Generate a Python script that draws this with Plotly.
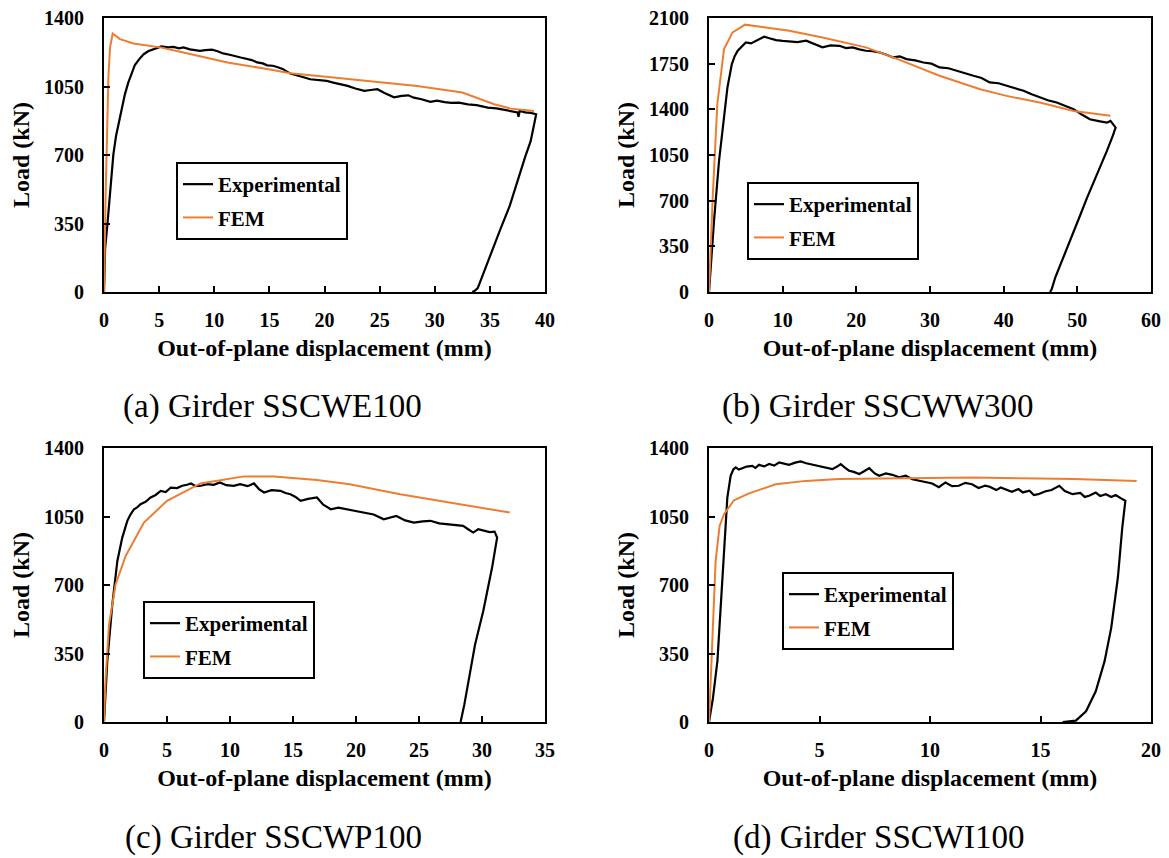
import plotly.graph_objects as go

# ---------------- data ----------------
# (a) Girder SSCWE100
a_exp_x = [0, 0.1, 0.3, 0.55, 0.85, 1.1, 1.3, 1.6, 1.9, 2.2, 2.4, 2.8, 3.2, 3.6, 4.0, 4.5, 5.2, 5.8, 6.3, 6.8,
           7.2, 7.8, 8.3, 8.7, 9.2, 9.8, 10.3, 10.8, 11.4, 11.9, 12.4, 12.9, 13.4, 13.9, 14.4, 14.8, 15.3, 15.7,
           16.2, 16.9, 17.5, 18.1, 18.7, 19.3, 20.2, 20.8, 21.5, 22.1, 22.8, 23.6, 24.2, 24.8, 25.4, 26.3, 27.0,
           27.6, 28.1, 28.8, 29.6, 30.2, 30.9, 31.5, 32.2, 33.0, 33.8, 34.8, 35.6, 36.3, 37.0, 37.5, 37.6, 37.7,
           38.2, 38.7, 39.2, 39.0, 38.7, 38.2, 37.5, 36.8, 36.0, 35.4, 34.8, 34.3, 33.9, 33.6, 33.4]
a_exp_y = [0, 220, 340, 520, 703, 800, 857, 940, 1011, 1070, 1104, 1160, 1190, 1215, 1230, 1241, 1255, 1250, 1252, 1245,
           1250, 1240, 1235, 1232, 1236, 1238, 1230, 1219, 1212, 1204, 1198, 1192, 1185, 1173, 1168, 1158, 1156, 1150,
           1140, 1116, 1108, 1097, 1087, 1085, 1079, 1070, 1062, 1053, 1040, 1028, 1032, 1036, 1018, 995, 1002,
           1005, 993, 985, 972, 978, 970, 966, 968, 959, 955, 942, 938, 932, 925, 918, 895, 925,
           918, 915, 908, 860, 771, 690, 567, 440, 328, 240, 157, 85, 20, 5, 0]
a_fem_x = [0, 0.15, 0.4, 0.55, 0.79, 1.45, 2.67, 5.1, 7.2, 11.2, 14.8, 16.9, 20.8, 23.9, 28.4, 32.5, 35.4, 36.9, 39.0]
a_fem_y = [0, 500, 1100, 1250, 1321, 1292, 1270, 1250, 1224, 1173, 1139, 1118, 1096, 1079, 1053, 1019, 959, 937, 925]

# (b) Girder SSCWW300
b_exp_x = [0, 0.68, 1.36, 2.04, 2.5, 3.1, 3.5, 3.9, 4.4, 5.0, 5.7, 6.4, 7.0, 7.5, 8.2, 9.1, 10.0, 10.9, 12.0, 13.2,
           14.3, 15.4, 16.5, 17.7, 18.6, 19.5, 20.4, 21.3, 22.2, 23.2, 24.1, 25.0, 25.9, 26.8, 28.0, 29.1, 30.2,
           31.3, 32.5, 33.6, 34.7, 35.9, 37.0, 38.1, 39.3, 40.4, 41.5, 42.7, 43.8, 44.9, 46.0, 47.2, 48.3, 49.5,
           50.6, 51.7, 52.9, 54.0, 54.5, 55.2, 55.0, 54.9, 54.0, 53.1, 52.2, 51.3, 50.4, 49.5, 48.6, 47.7, 47.0,
           46.5, 46.3]
b_exp_y = [0, 543, 1004, 1362, 1567, 1747, 1810, 1849, 1880, 1913, 1905, 1926, 1940, 1957, 1945, 1931, 1925, 1921, 1915, 1926,
           1900, 1875, 1890, 1887, 1870, 1875, 1860, 1849, 1845, 1836, 1818, 1798, 1805, 1785, 1775, 1759, 1750,
           1721, 1715, 1695, 1680, 1657, 1640, 1606, 1600, 1580, 1565, 1542, 1515, 1490, 1470, 1452, 1430, 1401,
           1360, 1324, 1310, 1298, 1311, 1260, 1230, 1209, 1080, 960, 850, 720, 590, 466, 340, 210, 110,
           18, 0]
b_fem_x = [0, 0.5, 1.13, 2.04, 3.2, 4.9, 10.9, 15.4, 21.3, 25.0, 31.3, 36.8, 40.4, 44.9, 49.5, 54.5]
b_fem_y = [0, 722, 1439, 1862, 1990, 2049, 2003, 1951, 1875, 1798, 1657, 1554, 1503, 1452, 1388, 1350]

# (c) Girder SSCWP100
c_exp_x = [0, 0.26, 0.66, 1.06, 1.45, 1.85, 2.1, 2.38, 2.6, 2.9, 3.3, 3.7, 4.1, 4.5, 4.9, 5.3, 5.8, 6.2, 6.6, 6.9,
           7.3, 7.7, 8.2, 8.7, 9.2, 9.7, 10.3, 10.8, 11.4, 11.9, 12.3, 12.7, 13.3, 14.0, 14.4, 14.8, 15.2, 15.6,
           16.2, 16.9, 17.4, 18.0, 18.6, 19.3, 19.9, 20.6, 21.4, 22.2, 22.7, 23.2, 23.9, 24.6, 25.3, 25.9, 26.6,
           27.2, 27.9, 28.5, 28.9, 29.3, 29.7, 30.1, 30.6, 31.0, 31.2, 30.8, 30.1, 29.45, 29.2, 29.05, 28.8, 28.6,
           28.4, 28.3]
c_exp_y = [0, 311, 601, 823, 942, 1028, 1060, 1087, 1095, 1113, 1125, 1147, 1160, 1181, 1175, 1198, 1195, 1207, 1212, 1219,
           1205, 1207, 1215, 1212, 1224, 1210, 1207, 1215, 1205, 1219, 1190, 1173, 1185, 1181, 1170, 1164, 1150, 1130,
           1140, 1147, 1110, 1087, 1095, 1087, 1080, 1070, 1060, 1036, 1045, 1053, 1030, 1019, 1025, 1028, 1015,
           1011, 1005, 1002, 985, 968, 985, 980, 970, 973, 942, 789, 567, 396, 300, 242, 157, 90,
           29, 0]
c_fem_x = [0, 0.13, 0.4, 0.92, 1.72, 3.17, 5.0, 7.66, 11.1, 13.5, 16.9, 19.5, 23.5, 27.5, 29.6, 32.2]
c_fem_y = [0, 225, 498, 703, 848, 1019, 1130, 1219, 1255, 1255, 1236, 1215, 1164, 1121, 1096, 1070]

# (d) Girder SSCWI100
d_exp_x = [0, 0.18, 0.38, 0.53, 0.68, 0.83, 0.98, 1.1, 1.21, 1.35, 1.51, 1.7, 1.96, 2.1, 2.26, 2.5, 2.72, 2.95,
           3.17, 3.4, 3.62, 3.9, 4.15, 4.4, 4.68, 4.9, 5.13, 5.35, 5.58, 5.8, 5.96, 6.15, 6.34, 6.55, 6.8, 7.0,
           7.25, 7.5, 7.7, 8.0, 8.3, 8.6, 8.9, 9.2, 9.5, 9.8, 10.1, 10.4, 10.7, 11.0, 11.3, 11.6, 11.9, 12.2,
           12.5, 12.7, 13.0, 13.2, 13.4, 13.7, 14.0, 14.2, 14.5, 14.7, 14.9, 15.2, 15.5, 15.85, 16.1, 16.45,
           16.8, 17.0, 17.2, 17.5, 17.7, 17.96, 18.2, 18.4, 18.7, 18.84, 18.7, 18.5, 18.2, 17.9, 17.5, 17.06,
           16.6, 16.3, 16.0]
d_exp_y = [0, 123, 311, 601, 908, 1147, 1258, 1290, 1301, 1290, 1297, 1305, 1309, 1298, 1314, 1306, 1318, 1310,
           1326, 1320, 1314, 1325, 1331, 1322, 1314, 1308, 1301, 1298, 1292, 1305, 1318, 1300, 1284, 1278, 1267, 1280,
           1297, 1270, 1258, 1270, 1263, 1250, 1258, 1240, 1232, 1226, 1219, 1200, 1224, 1205, 1207, 1222, 1215, 1196,
           1208, 1202, 1185, 1198, 1190, 1176, 1190, 1173, 1182, 1160, 1164, 1178, 1185, 1207, 1180, 1164,
           1170, 1150, 1156, 1172, 1155, 1164, 1150, 1160, 1139, 1130, 993, 737, 481, 311, 157, 55,
           7, 3, 0]
d_fem_x = [0, 0.12, 0.3, 0.48, 0.68, 1.13, 1.81, 3.02, 4.38, 5.9, 7.4, 8.9, 11.9, 13.4, 14.9, 16.5, 18.0, 19.35]
d_fem_y = [0, 328, 823, 1002, 1062, 1133, 1168, 1215, 1232, 1241, 1244, 1246, 1249, 1248, 1244, 1241, 1236, 1232]

captions = ["(a) Girder SSCWE100", "(b) Girder SSCWW300", "(c) Girder SSCWP100", "(d) Girder SSCWI100"]
x_ranges = [[0, 40], [0, 60], [0, 35], [0, 20]]
x_dticks = [5, 10, 5, 5]
y_ranges = [[0, 1400], [0, 2100], [0, 1400], [0, 1400]]
y_dtick = 350
series_names = ["Experimental", "FEM"]

for xs, ys in [(a_exp_x, a_exp_y), (a_fem_x, a_fem_y), (b_exp_x, b_exp_y), (b_fem_x, b_fem_y),
               (c_exp_x, c_exp_y), (c_fem_x, c_fem_y), (d_exp_x, d_exp_y), (d_fem_x, d_fem_y)]:
    assert len(xs) == len(ys), (len(xs), len(ys))

# ---------------- figure ----------------
W, H = 1169, 858
FONT = "Liberation Serif"
BLACK = "#000000"
ORANGE = "#ED7D31"

def px_x(p):
    return p / W

def px_y(p):
    return 1 - p / H

# plot areas in pixels (left, right, top, bottom)
boxes = [(104, 545, 18, 292), (709, 1151, 18, 292), (104, 545, 448, 722), (709, 1151, 448, 722)]
legend_pos = [(176, 162), (747, 182), (143, 601), (782, 572)]
caption_pos = [(272, 406), (878, 406), (273, 837), (878, 837)]

data_sets = [(a_exp_x, a_exp_y, a_fem_x, a_fem_y),
             (b_exp_x, b_exp_y, b_fem_x, b_fem_y),
             (c_exp_x, c_exp_y, c_fem_x, c_fem_y),
             (d_exp_x, d_exp_y, d_fem_x, d_fem_y)]

fig = go.Figure()
layout = dict(
    template="none",
    width=W, height=H, margin=dict(l=0, r=0, t=0, b=0, autoexpand=False),
    paper_bgcolor="white", plot_bgcolor="white",
    font=dict(family=FONT, color=BLACK),
    annotations=[],
)

for i, (ex, ey, fx, fy) in enumerate(data_sets):
    n = "" if i == 0 else str(i + 1)
    leg = "legend" + n
    fig.add_trace(go.Scatter(x=ex, y=ey, mode="lines", name=series_names[0],
                             line=dict(color=BLACK, width=2.2), xaxis="x" + n, yaxis="y" + n,
                             legend=leg, legendgroup=f"g{i}e"))
    fig.add_trace(go.Scatter(x=fx, y=fy, mode="lines", name=series_names[1],
                             line=dict(color=ORANGE, width=2), xaxis="x" + n, yaxis="y" + n,
                             legend=leg, legendgroup=f"g{i}f"))
    l, r, t, b = boxes[i]
    axis_common = dict(showline=True, linecolor=BLACK, linewidth=2, mirror=True,
                       ticks="inside", ticklen=6, tickwidth=2, tickcolor=BLACK,
                       showgrid=False, zeroline=False, automargin=False,
                       tickfont=dict(family=FONT, size=20, color=BLACK, weight="bold"))
    layout["xaxis" + n] = dict(axis_common, domain=[px_x(l), px_x(r)], anchor="y" + n,
                               range=x_ranges[i], dtick=x_dticks[i], tick0=0,
                               ticklabelstandoff=9,
                               title=dict(text="Out-of-plane displacement (mm)", standoff=9,
                                          font=dict(family=FONT, size=24, color=BLACK, weight="bold")))
    layout["yaxis" + n] = dict(axis_common, domain=[px_y(b), px_y(t)], anchor="x" + n,
                               range=y_ranges[i], dtick=y_dtick, tick0=0,
                               ticklabelstandoff=14,
                               title=dict(text="Load (kN)", standoff=8,
                                          font=dict(family=FONT, size=24, color=BLACK, weight="bold")))
    lx, ly = legend_pos[i]
    layout[leg] = dict(x=px_x(lx), y=px_y(ly), xanchor="left", yanchor="top",
                       bordercolor=BLACK, borderwidth=2, bgcolor="white",
                       tracegroupgap=3, itemwidth=30,
                       font=dict(family=FONT, size=21, color=BLACK, weight="bold"))
    cx, cy = caption_pos[i]
    layout["annotations"].append(dict(text=captions[i], x=px_x(cx), y=px_y(cy), xref="paper", yref="paper",
                                      xanchor="center", yanchor="middle", showarrow=False,
                                      font=dict(family=FONT, size=33, color=BLACK)))

fig.update_layout(**layout)
fig.write_html("out.html")
